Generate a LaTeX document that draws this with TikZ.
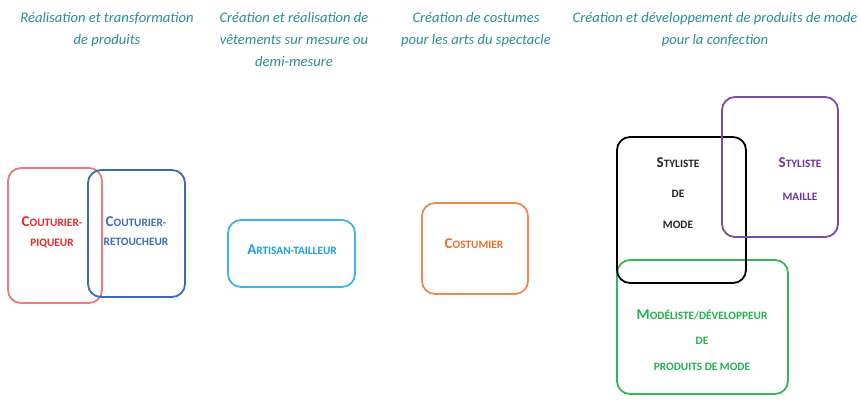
\documentclass[tikz,border=0pt]{standalone}
\usepackage{fontspec}
\setmainfont{Carlito}
\definecolor{headc}{HTML}{2B8C92}
\definecolor{redt}{HTML}{E8262B}
\definecolor{redb}{HTML}{F0787A}
\definecolor{bluet}{HTML}{3C6DB4}
\definecolor{blueb}{HTML}{3A6CB2}
\definecolor{cyant}{HTML}{1E9DE0}
\definecolor{cyanb}{HTML}{3CB6EA}
\definecolor{orat}{HTML}{EA6E2A}
\definecolor{orab}{HTML}{EE8A4E}
\definecolor{purt}{HTML}{7030A0}
\definecolor{purb}{HTML}{7A4AA8}
\definecolor{grnt}{HTML}{22B04B}
\definecolor{grnb}{HTML}{33B75A}
\newcommand{\BgL}[1]{{\fontsize{15}{16}\selectfont #1}}
\newcommand{\SmL}[1]{{\fontsize{11.3}{12}\selectfont #1}}
\begin{document}
\begin{tikzpicture}[x=1pt,y=-1pt,
  box/.style={draw, line width=1.8pt, rounded corners=13pt, inner sep=0pt},
  head/.style={text=headc, font=\fontsize{14.6}{22}\selectfont\itshape, align=center, anchor=north, inner sep=0pt},
  lab/.style={font=\bfseries, inner sep=0pt}]
\useasboundingbox (0,0) rectangle (861,399);
% headers
\node[head] (h1) at (107,12) {Réalisation et transformation\\de produits};
\node[head] (h2) at (294,12) {Création et réalisation de\\vêtements sur mesure ou\\demi-mesure};
\node[head] (h3) at (476,12) {Création de costumes\\pour les arts du spectacle};
\node[head] (h4) at (715,12) {Création et développement de produits de mode\\pour la confection};
% boxes
\node[box, draw=redb, minimum width=94pt, minimum height=135pt] (red) at (55,235.5) {};
\node[box, draw=blueb, minimum width=97pt, minimum height=127pt] (blue) at (136.5,233.5) {};
\node[box, draw=cyanb, minimum width=127pt, minimum height=67pt] (cyan) at (291.5,253.5) {};
\node[box, draw=orab, minimum width=106pt, minimum height=91pt] (ora) at (475,248.5) {};
\node[box, draw=grnb, minimum width=171pt, minimum height=134pt] (grn) at (702.5,327) {};
\node[box, draw=black, minimum width=129pt, minimum height=146pt] (blk) at (681.5,210) {};
\node[box, draw=purb, minimum width=116pt, minimum height=140pt] (pur) at (780,167) {};
% labels
\node[lab, text=redt] (r1) at (52,222) {\BgL{C}\SmL{OUTURIER-}};
\node[lab, text=redt] (r2) at (52,243) {\SmL{PIQUEUR}};
\node[lab, text=bluet] (b1) at (136,222) {\BgL{C}\SmL{OUTURIER-}};
\node[lab, text=bluet] (b2) at (136,242) {\SmL{RETOUCHEUR}};
\node[lab, text=cyant] (c1) at (292,250) {\BgL{A}\SmL{RTISAN-TAILLEUR}};
\node[lab, text=orat] (o1) at (474,244) {\BgL{C}\SmL{OSTUMIER}};
\node[lab, text=black!85] (k1) at (678,163) {\BgL{S}\SmL{TYLISTE}};
\node[lab, text=black!85] (k2) at (678,194) {\SmL{DE}};
\node[lab, text=black!85] (k3) at (678,225) {\SmL{MODE}};
\node[lab, text=purt] (p1) at (800,163) {\BgL{S}\SmL{TYLISTE}};
\node[lab, text=purt] (p2) at (800,197) {\SmL{MAILLE}};
\node[lab, text=grnt] (g1) at (702,315) {\BgL{M}\SmL{ODÉLISTE/DÉVELOPPEUR}};
\node[lab, text=grnt] (g2) at (702,341) {\SmL{DE}};
\node[lab, text=grnt] (g3) at (702,367) {\SmL{PRODUITS DE MODE}};
\end{tikzpicture}
\end{document}
